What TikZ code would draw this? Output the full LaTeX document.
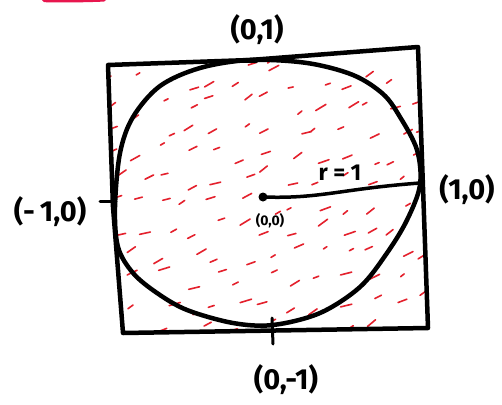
\documentclass[tikz,border=0pt]{standalone}
\usepackage{fontspec}
\setmainfont{Fira Sans}
\begin{document}
\begin{tikzpicture}[x=1pt,y=-1pt,
  ink/.style={draw=black,line width=4.5pt,line cap=round,line join=round},
  hatch/.style={draw=hatchred,line width=1.6pt,line cap=round},
  lbl/.style={inner sep=0pt,font=\fontsize{29}{29}\selectfont\bfseries},
  smalllbl/.style={inner sep=0pt,font=\fontsize{14}{14}\selectfont\bfseries},
  rlbl/.style={inner sep=0pt,font=\fontsize{23}{23}\selectfont\bfseries}]
\definecolor{hatchred}{RGB}{228,32,44}
\definecolor{topred}{RGB}{232,22,78}
\useasboundingbox (0,0) rectangle (502,404);
\fill[white] (0,0) rectangle (502,404);
% marker at the top edge
\fill[topred] (42,0) -- (106,0) -- (104,1.6) .. controls (80,2.6) and (60,2.6) .. (44,2.2) -- cycle;
% square corners
\coordinate (tl) at (108,65);
\coordinate (tr) at (418,47);
\coordinate (br) at (428,328);
\coordinate (bl) at (123,333);
% hatching inside the square
\begin{scope}
  \clip (tl) -- (tr) -- (br) -- (bl) -- cycle;
  \pgfmathsetseed{23}
  \foreach \i in {0,...,12}{
    \foreach \j in {0,...,11}{
      \pgfmathsetmacro\px{110+\i*26+rand*10}
      \pgfmathsetmacro\py{55+\j*25+rand*10}
      \pgfmathsetmacro\ang{26+rand*14}
      \pgfmathsetmacro\len{4+rnd*8}
      \pgfmathsetmacro\dx{\len*cos(\ang)}
      \pgfmathsetmacro\dy{-\len*sin(\ang)}
      \draw[hatch] (\px,\py) -- ++(\dx,\dy);
    }
  }
\end{scope}
% square
\draw[ink] (tl) -- (250,60) -- (tr) -- (br) -- (bl) -- (113,207) -- cycle;
% circle (hand drawn)
\draw[ink] plot[smooth cycle,tension=0.55] coordinates {
  (250,60) (307,63) (353,75) (383,94) (400,117) (417,150) (420,185)
  (407,220) (387,253) (360,287) (320,313) (273,325) (233,323) (187,310)
  (157,293) (133,273) (118,247) (115,207) (120,153) (133,117) (160,86) (200,68)};
% ticks
\draw[ink] (238,61) -- (256,61);
\draw[ink,line width=3pt] (100,201) -- (116,201);
\draw[ink,line width=3pt] (272,318) -- (273,344);
% centre and radius
\coordinate (o) at (263,197);
\coordinate (re) at (420,183);
\fill (o) circle (4.5);
\draw[ink,line width=3.5pt] (o) .. controls (320,199) and (340,189) .. (re);
% labels
\node[lbl] (n01) at (257,30) {(0,1)};
\node[lbl] (n10) at (467,190) {(1,0)};
\node[lbl] (nm10) at (50,212) {(-\,1,0)};
\node[lbl] (n0m1) at (286,380) {(0,-1)};
\node[rlbl] (nr) at (340,173) {r = 1};
\node[smalllbl] (n00) at (270,221) {(0,0)};
\end{tikzpicture}
\end{document}
